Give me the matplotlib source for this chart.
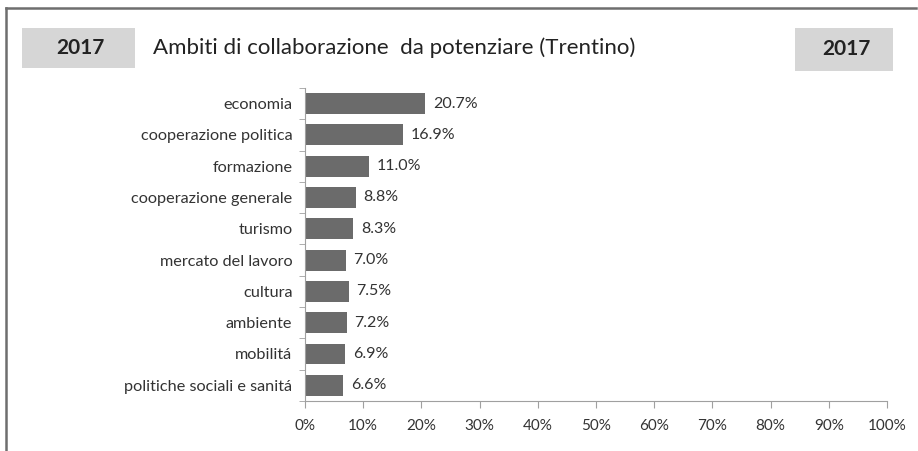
import matplotlib.pyplot as plt
from matplotlib.patches import Rectangle
from matplotlib.lines import Line2D
import numpy as np

plt.rcParams['font.family'] = ['Lato', 'DejaVu Sans']

categories = ['economia', 'cooperazione politica', 'formazione',
              'cooperazione generale', 'turismo', 'mercato del lavoro',
              'cultura', 'ambiente', 'mobilitá', 'politiche sociali e sanitá']
values = [20.7, 16.9, 11.0, 8.8, 8.3, 7.0, 7.5, 7.2, 6.9, 6.6]
xticks = [0, 10, 20, 30, 40, 50, 60, 70, 80, 90, 100]
title = 'Ambiti di collaborazione  da potenziare (Trentino)'
year = '2017'

fig = plt.figure(figsize=(9.18, 4.51), dpi=100)
ax = fig.add_axes([0.3322, 0.111, 0.634, 0.694])

y = np.arange(len(categories))
ax.barh(y, values, height=0.67, color='#6b6b6b')
for yi, v in zip(y, values):
    ax.text(v + 1.3, yi, f'{v:.1f}%', va='center', ha='left',
            fontsize=11.5, color='#333333')

ax.set_xlim(0, 100)
ax.set_ylim(len(categories) - 0.5, -0.5)
ax.set_xticks(xticks)
ax.set_xticklabels([f'{t}%' for t in xticks], fontsize=11, color='#333333')
ax.set_yticks(y)
ax.set_yticklabels(categories, fontsize=11.7, color='#333333')
ax.tick_params(axis='y', length=0, pad=9)
ax.set_yticks(np.arange(len(categories) + 1) - 0.5, minor=True)
ax.tick_params(axis='y', which='minor', length=4, color='#a0a0a0')
ax.tick_params(axis='x', length=5, color='#a0a0a0', pad=8)
for s in ['top', 'right']:
    ax.spines[s].set_visible(False)
for s in ['left', 'bottom']:
    ax.spines[s].set_color('#a0a0a0')

# frame lines
fig.add_artist(Line2D([6/918, 916/918], [1 - 8/451, 1 - 8/451], color='#6e6e6e', lw=1.8))
fig.add_artist(Line2D([6/918, 6/918], [1 - 8/451, 0], color='#6e6e6e', lw=1.8))

# year boxes
fig.add_artist(Rectangle((22/918, 1 - 68/451), 113/918, 40/451, color='#d6d6d6', lw=0))
fig.add_artist(Rectangle((795/918, 1 - 71/451), 98/918, 43/451, color='#d6d6d6', lw=0))
fig.text(80/918, 1 - 48/451, year, ha='center', va='center', fontsize=15,
         fontweight='bold', color='#222222')
fig.text(846/918, 1 - 49/451, year, ha='center', va='center', fontsize=15,
         fontweight='bold', color='#222222')
fig.text(153/918, 1 - 48/451, title, ha='left', va='center', fontsize=16,
         color='#222222')

fig.savefig('out.png', dpi=100)
